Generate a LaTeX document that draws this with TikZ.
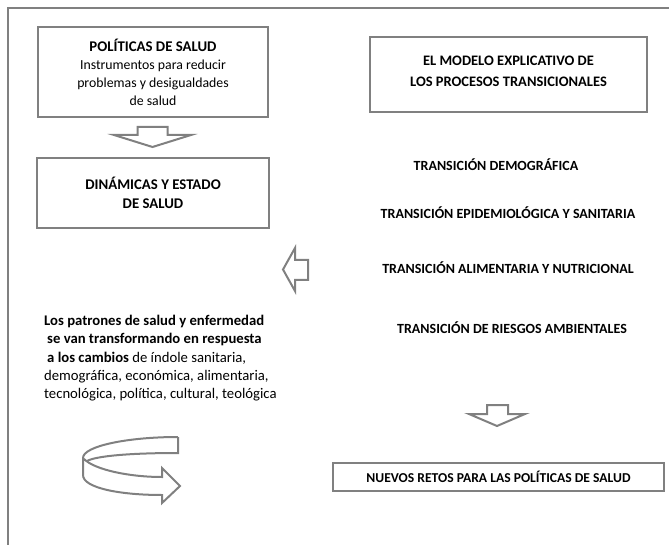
\documentclass[tikz,border=0pt]{standalone}
\usepackage{fontspec}
\setmainfont{Carlito}
\usetikzlibrary{calc}

\definecolor{linegray}{HTML}{808080}

\tikzset{
  box/.style={draw=linegray, line width=2pt, align=center, inner sep=0pt,
    font=\fontsize{13.8}{18}\selectfont},
  hollow/.style={draw=linegray, line width=2pt, fill=white, line join=miter},
  trans/.style={font=\bfseries\fontsize{14}{16}\selectfont, inner sep=0pt},
}

\begin{document}
\begin{tikzpicture}[x=1pt, y=-1pt]
  \useasboundingbox (0,0) rectangle (669,545);

  % frame
  \draw[linegray, line width=2pt] (669,8) -- (8,8) -- (8,545);

  % left column
  \node [box, minimum width=230, minimum height=90] (politicas) at (153,72)
    {{\bfseries\fontsize{14.8}{18}\selectfont POLÍTICAS DE SALUD}\\Instrumentos para reducir\\problemas y desigualdades\\de salud};
  \node [box, minimum width=232, minimum height=70,
    font=\bfseries\fontsize{14.8}{19}\selectfont] (dinamicas) at (153,193)
    {DINÁMICAS Y ESTADO\\DE SALUD};

  \draw [hollow] (137.5,127) -- (167.5,127) -- (167.5,135) -- (191,135)
    -- (152.5,147) -- (114,135) -- (137.5,135) -- cycle;

  \node [anchor=north west, align=left, inner sep=0pt,
    font=\fontsize{14.7}{18.3}\selectfont] (patrones) at (44,315)
    {\textbf{Los patrones de salud y enfermedad}\\
     \hspace{3pt}\textbf{se van transformando en respuesta}\\
     \hspace{3pt}\textbf{a los cambios} de índole sanitaria,\\
     demográfica, económica, alimentaria,\\
     tecnológica, política, cultural, teológica};

  % curved arrow
  \draw [hollow] (178,437) -- (178,453) .. controls (130,453) and (96,456) .. (87,461);
  \draw [hollow, fill=none] (178,437) .. controls (128,437) and (83,446) .. (83,458)
    -- (83,475) .. controls (83,488) and (120,495) .. (162,495) -- (162,503)
    -- (180,486) -- (162,468) -- (162,477) .. controls (130,477) and (95,470) .. (84,459);

  % right column
  \node [box, minimum width=277, minimum height=75] (modelo) at (508.5,74.5) {};
  \node [align=center, inner sep=0pt, font=\bfseries\fontsize{14.5}{21}\selectfont]
    (modelotxt) at ($(modelo.center)+(0,-3)$)
    {EL MODELO EXPLICATIVO DE\\LOS PROCESOS TRANSICIONALES};

  \node [trans] (demografica) at (496,165) {TRANSICIÓN DEMOGRÁFICA};
  \node [trans] (epidemiologica) at (508,213) {TRANSICIÓN EPIDEMIOLÓGICA Y SANITARIA};
  \node [trans] (alimentaria) at (508,268) {TRANSICIÓN ALIMENTARIA Y NUTRICIONAL};
  \node [trans] (riesgos) at (512,328) {TRANSICIÓN DE RIESGOS AMBIENTALES};

  \draw [hollow] (308,260) -- (295,260) -- (295,248) -- (283,269.5)
    -- (295,291) -- (295,280) -- (308,280) -- cycle;

  \draw [hollow] (487,405) -- (508,405) -- (508,414) -- (525,414)
    -- (497,426) -- (469,414) -- (487,414) -- cycle;

  \node [box, minimum width=331, minimum height=28,
    font=\bfseries\fontsize{13.6}{14}\selectfont] (retos) at (498.5,477)
    {NUEVOS RETOS PARA LAS POLÍTICAS DE SALUD};
\end{tikzpicture}
\end{document}
